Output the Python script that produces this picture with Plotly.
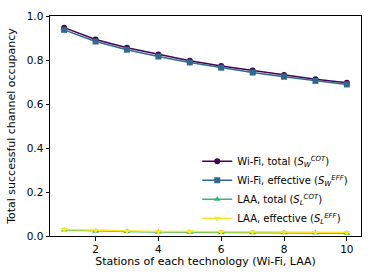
import plotly.graph_objects as go

stations = [1, 2, 3, 4, 5, 6, 7, 8, 9, 10]
wifi_total = [0.947, 0.893, 0.856, 0.825, 0.797, 0.773, 0.752, 0.732, 0.713, 0.697]
wifi_eff = [0.937, 0.884, 0.847, 0.816, 0.789, 0.765, 0.743, 0.724, 0.705, 0.689]
laa_total = [0.027, 0.022, 0.020, 0.018, 0.017, 0.016, 0.015, 0.015, 0.014, 0.013]
laa_eff = [0.030, 0.026, 0.023, 0.021, 0.020, 0.019, 0.018, 0.017, 0.016, 0.016]

names = [
    "Wi-Fi, total (<i>S</i><sub><i>W</i></sub><sup><i>COT</i></sup>)",
    "Wi-Fi, effective (<i>S</i><sub><i>W</i></sub><sup><i>EFF</i></sup>)",
    "LAA, total (<i>S</i><sub><i>L</i></sub><sup><i>COT</i></sup>)",
    "LAA, effective (<i>S</i><sub><i>L</i></sub><sup><i>EFF</i></sup>)",
]
colors = ["#440154", "#31688e", "#35b779", "#fde725"]
symbols = ["circle", "square", "triangle-up", "triangle-down"]
series = [wifi_total, wifi_eff, laa_total, laa_eff]

fig = go.Figure()
for name, c, s, ys in zip(names, colors, symbols, series):
    fig.add_trace(go.Scatter(
        x=stations, y=ys, mode="lines+markers", name=name,
        line=dict(color=c, width=1.5),
        marker=dict(symbol=s, size=6, color=c),
    ))

fig.update_layout(
    width=374, height=280,
    margin=dict(l=50, r=13, t=16, b=44, autoexpand=False),
    paper_bgcolor="white", plot_bgcolor="white",
    font=dict(family="DejaVu Sans", size=10.5, color="black"),
    showlegend=True,
    legend=dict(
        x=0.975, y=0.015, xanchor="right", yanchor="bottom",
        bgcolor="rgba(255,255,255,0)", font=dict(size=10),
        tracegroupgap=0, itemwidth=30,
    ),
)
fig.update_xaxes(
    range=[0.55, 10.45], tickvals=[2, 4, 6, 8, 10],
    showline=True, linecolor="black", linewidth=1, mirror=True,
    ticks="outside", ticklen=3.5, tickcolor="black", showgrid=False, zeroline=False,
    automargin=False, tickfont=dict(size=10.5),
    title=dict(text="Stations of each technology (Wi-Fi, LAA)", standoff=3,
               font=dict(size=11)),
)
fig.update_yaxes(
    range=[0, 1.0], tickvals=[0, 0.2, 0.4, 0.6, 0.8, 1.0], tickformat=".1f",
    showline=True, linecolor="black", linewidth=1, mirror=True,
    ticks="outside", ticklen=3.5, tickcolor="black", showgrid=False, zeroline=False,
    automargin=False, tickfont=dict(size=10.5),
    title=dict(text="Total successful channel occupancy", standoff=8,
               font=dict(size=11)),
)

fig.write_html("out.html", config={"displayModeBar": False},
               post_script="document.body.style.margin='0px';")
